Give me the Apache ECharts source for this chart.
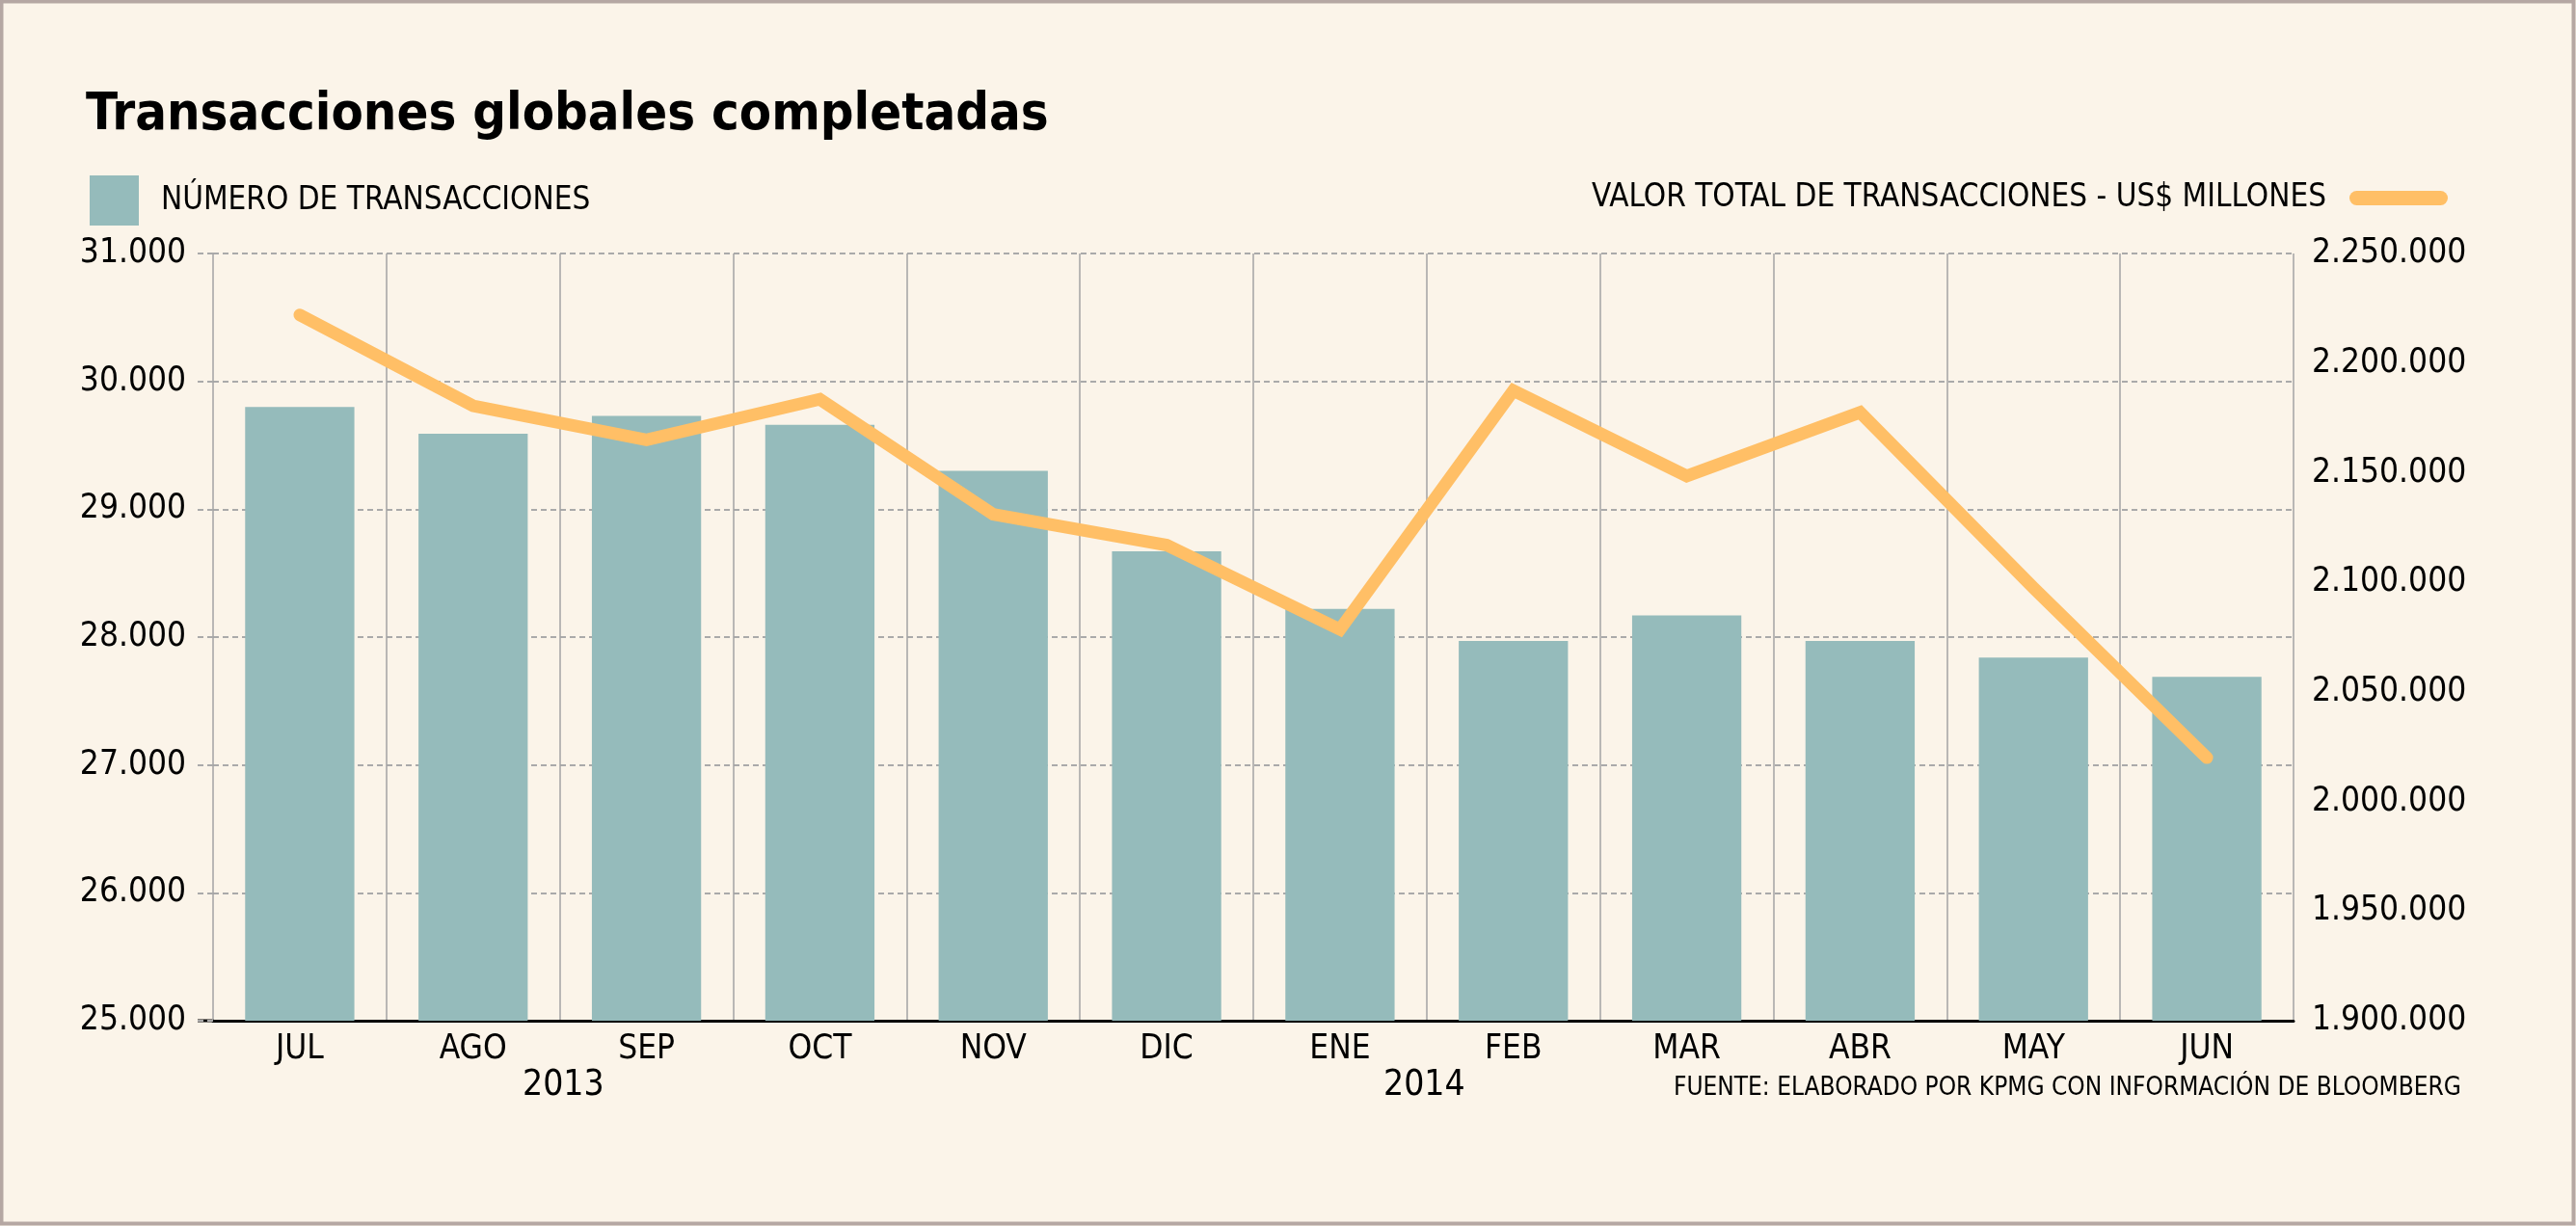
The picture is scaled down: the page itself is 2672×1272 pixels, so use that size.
<!DOCTYPE html>
<html>
<head>
<meta charset="utf-8">
<script src="https://cdn.jsdelivr.net/npm/echarts@6/dist/echarts.min.js"></script>
<style>
  html, body { margin: 0; padding: 0; background: #fbf4e9; }
  #main { width: 2672px; height: 1272px; }
</style>
</head>
<body>
<div id="main"></div>
<script>
// datos
const months = ['JUL', 'AGO', 'SEP', 'OCT', 'NOV', 'DIC', 'ENE', 'FEB', 'MAR', 'ABR', 'MAY', 'JUN'];
const numTransacciones = [29800, 29590, 29730, 29660, 29300, 28670, 28220, 27970, 28170, 27970, 27840, 27690];
const valorTotal = [2222000, 2180500, 2165000, 2183500, 2131000, 2117000, 2078500, 2187500, 2148500, 2177500, 2097500, 2020000];
const years = ['2013', '2014'];

const FONT = "'DejaVu Sans Condensed', sans-serif";

function miles(v) {
  return String(v).replace(/\B(?=(\d{3})+(?!\d))/g, '.');
}

const chart = echarts.init(document.getElementById('main'), null, { renderer: 'canvas' });

chart.setOption({
  backgroundColor: '#fbf4e9',
  animation: false,
  textStyle: { fontFamily: FONT, color: '#000' },
  title: {
    text: 'Transacciones globales completadas',
    left: 84,
    top: 88,
    textStyle: { fontFamily: FONT, fontWeight: 'bold', fontSize: 54, color: '#000' }
  },
  legend: [
    {
      data: ['NÚMERO DE TRANSACCIONES'],
      left: 88,
      top: 177,
      itemWidth: 51,
      itemHeight: 52,
      icon: 'rect',
      textStyle: { fontFamily: FONT, fontSize: 33, color: '#000', padding: [0, 0, 0, 18] }
    },
    {
      data: ['VALOR TOTAL DE TRANSACCIONES - US$ MILLONES'],
      right: 128,
      top: 184,
      align: 'right',
      itemWidth: 102,
      itemHeight: 15,
      icon: 'path://M7.5,0 L94.5,0 A7.5,7.5 0 0 1 94.5,15 L7.5,15 A7.5,7.5 0 0 1 7.5,0 Z',
      itemStyle: { color: '#ffbf66' },
      textStyle: { fontFamily: FONT, fontSize: 33, color: '#000', padding: [0, 19, 0, 0] }
    }
  ],
  grid: { left: 221, right: 293, top: 263, bottom: 213 },
  xAxis: {
    type: 'category',
    data: months,
    boundaryGap: true,
    axisLine: { lineStyle: { color: '#000', width: 3 } },
    axisTick: { show: false },
    axisLabel: { fontFamily: FONT, fontSize: 35, color: '#000', margin: 12 },
    splitLine: { show: true, interval: 0, lineStyle: { color: '#a3a3a3', width: 1.5 } }
  },
  yAxis: [
    {
      type: 'value',
      min: 25000,
      max: 31000,
      interval: 1000,
      axisLine: { show: false },
      axisTick: { show: true, length: 16, lineStyle: { color: '#aaaaaa', width: 2, type: [6, 4] } },
      axisLabel: { fontFamily: FONT, fontSize: 35, color: '#000', margin: 28, formatter: miles },
      splitLine: { lineStyle: { color: '#aaaaaa', width: 2, type: [6, 4] } }
    },
    {
      type: 'value',
      min: 1900000,
      max: 2250000,
      interval: 50000,
      axisLine: { show: false },
      axisTick: { show: false },
      axisLabel: { fontFamily: FONT, fontSize: 35, color: '#000', margin: 19, formatter: miles },
      splitLine: { show: false }
    }
  ],
  series: [
    {
      name: 'NÚMERO DE TRANSACCIONES',
      type: 'bar',
      yAxisIndex: 0,
      data: numTransacciones,
      barWidth: '63%',
      itemStyle: { color: '#95bbbb' }
    },
    {
      name: 'VALOR TOTAL DE TRANSACCIONES - US$ MILLONES',
      type: 'line',
      yAxisIndex: 1,
      data: valorTotal,
      symbol: 'none',
      color: '#ffbf66',
      lineStyle: { color: '#ffbf66', width: 13, cap: 'round', join: 'miter' }
    }
  ],
  graphic: [
    {
      type: 'rect',
      silent: true,
      shape: { x: 1.5, y: 1.5, width: 2668, height: 1268 },
      style: { fill: null, stroke: '#b5a7a3', lineWidth: 4 }
    },
    {
      // prolongación del eje x a la izquierda
      type: 'line',
      silent: true,
      shape: { x1: 205, y1: 1059, x2: 222, y2: 1059 },
      style: { stroke: '#000', lineWidth: 3 }
    },
    {
      type: 'text',
      left: 584 - 42,
      top: 1108,
      style: { text: years[0], font: '37px ' + FONT, fill: '#000' }
    },
    {
      type: 'text',
      left: 1477 - 42,
      top: 1108,
      style: { text: years[1], font: '37px ' + FONT, fill: '#000' }
    },
    {
      type: 'text',
      right: 2672 - 2553,
      top: 1116,
      style: { text: 'FUENTE: ELABORADO POR KPMG CON INFORMACIÓN DE BLOOMBERG', font: '26px ' + FONT, fill: '#000' }
    }
  ]
});
</script>
</body>
</html>
